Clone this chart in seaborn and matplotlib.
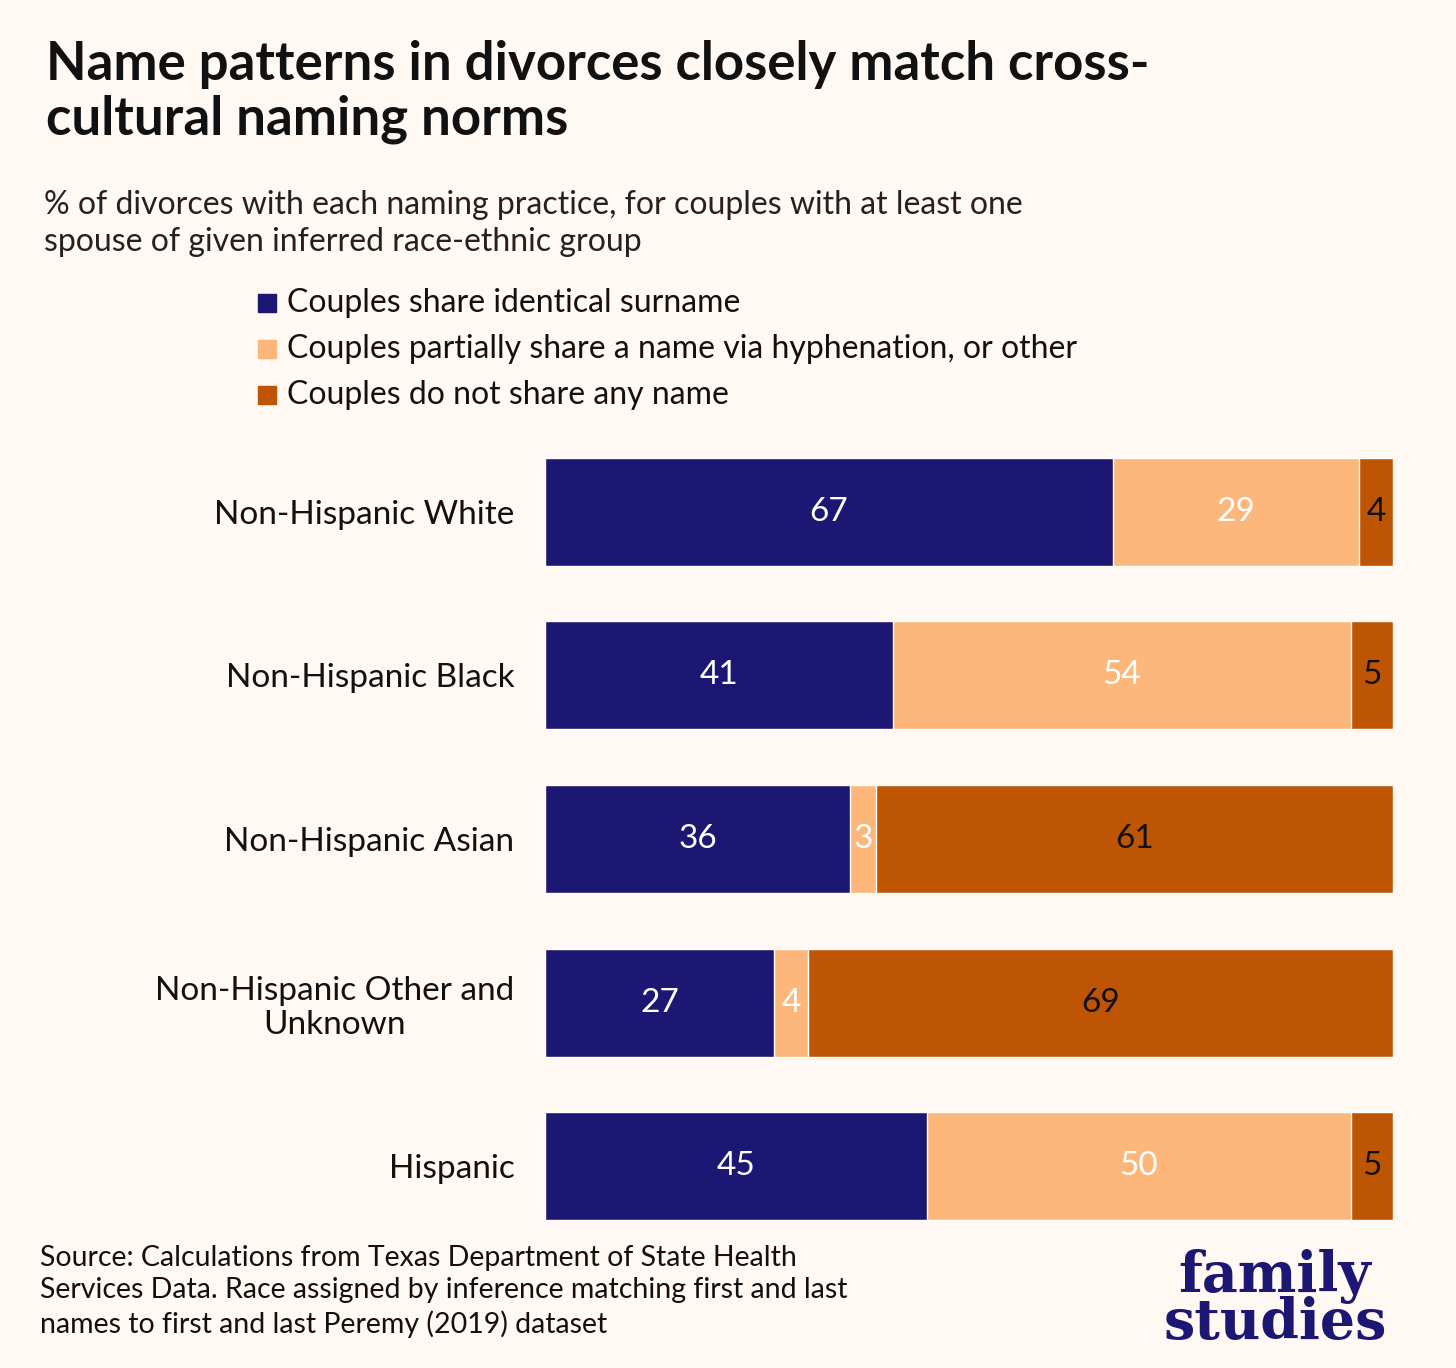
import matplotlib
matplotlib.use("Agg")
import matplotlib.pyplot as plt
import numpy as np
import pandas as pd
import seaborn as sns

groups = ["Non-Hispanic White", "Non-Hispanic Black", "Non-Hispanic Asian",
          "Non-Hispanic Other and\nUnknown", "Hispanic"]
identical = [67, 41, 36, 27, 45]
partial = [29, 54, 3, 4, 50]
none_shared = [4, 5, 61, 69, 5]
series_names = ["Couples share identical surname",
                "Couples partially share a name via hyphenation, or other",
                "Couples do not share any name"]
colors = ["#1c1773", "#fdb77b", "#be5504"]
label_colors = ["white", "white", "#111111"]
BG = "#fff8f3"

sns.set_theme(style="white")
plt.rcParams["font.family"] = ["Lato", "DejaVu Sans"]

df = pd.DataFrame({"group": groups, "a": identical, "b": partial, "c": none_shared})
df["cum1"] = df["a"]
df["cum2"] = df["a"] + df["b"]
df["cum3"] = df["cum2"] + df["c"]

fig = plt.figure(figsize=(14.56, 13.68), dpi=100, facecolor=BG)
ax = fig.add_axes([545 / 1456, 1 - 1248 / 1368, 848 / 1456, 818 / 1368])
ax.set_facecolor(BG)

for col, color in zip(["cum3", "cum2", "cum1"], colors[::-1]):
    sns.barplot(data=df, x=col, y="group", color=color, width=0.66,
                saturation=1, ax=ax, orient="h")

for i in range(len(groups)):
    starts = [0, df["cum1"][i], df["cum2"][i]]
    vals = [identical[i], partial[i], none_shared[i]]
    for s, v, lc in zip(starts, vals, label_colors):
        ax.text(s + v / 2, i, str(v), ha="center", va="center",
                fontsize=24, color=lc)

ax.set_xlim(0, 100)
ax.set_xlabel("")
ax.set_ylabel("")
ax.set_xticks([])
ax.tick_params(axis="y", length=0, pad=22, labelsize=24)
for lab in ax.get_yticklabels():
    lab.set_color("#111111")
    lab.set_multialignment("center")
sns.despine(ax=ax, left=True, bottom=True)

fig.text(46 / 1456, 1 - 40 / 1368,
         "Name patterns in divorces closely match cross-\ncultural naming norms",
         fontsize=38, fontweight="bold", va="top", color="#111111", linespacing=1.15)
fig.text(44 / 1456, 1 - 190 / 1368,
         "% of divorces with each naming practice, for couples with at least one\n"
         "spouse of given inferred race-ethnic group",
         fontsize=23, va="top", color="#222222", linespacing=1.3)

for k, (name, color) in enumerate(zip(series_names, colors)):
    yc = 1 - (303 + k * 46) / 1368
    fig.patches.append(plt.Rectangle((258 / 1456, yc - 9 / 1368), 18 / 1456, 18 / 1368,
                                     transform=fig.transFigure, color=color))
    fig.text(287 / 1456, yc, name, fontsize=23, va="center", color="#111111")

fig.text(40 / 1456, 1 - 1245 / 1368,
         "Source: Calculations from Texas Department of State Health\n"
         "Services Data. Race assigned by inference matching first and last\n"
         "names to first and last Peremy (2019) dataset",
         fontsize=20.5, va="top", color="#111111", linespacing=1.3)
fig.text(1275 / 1456, 1 - 1300 / 1368, "family\nstudies", ha="center", va="center",
         fontsize=40, fontweight="bold", family="DejaVu Serif", color="#1c1773",
         linespacing=0.8)

fig.savefig("out.png", dpi=100, facecolor=BG)
